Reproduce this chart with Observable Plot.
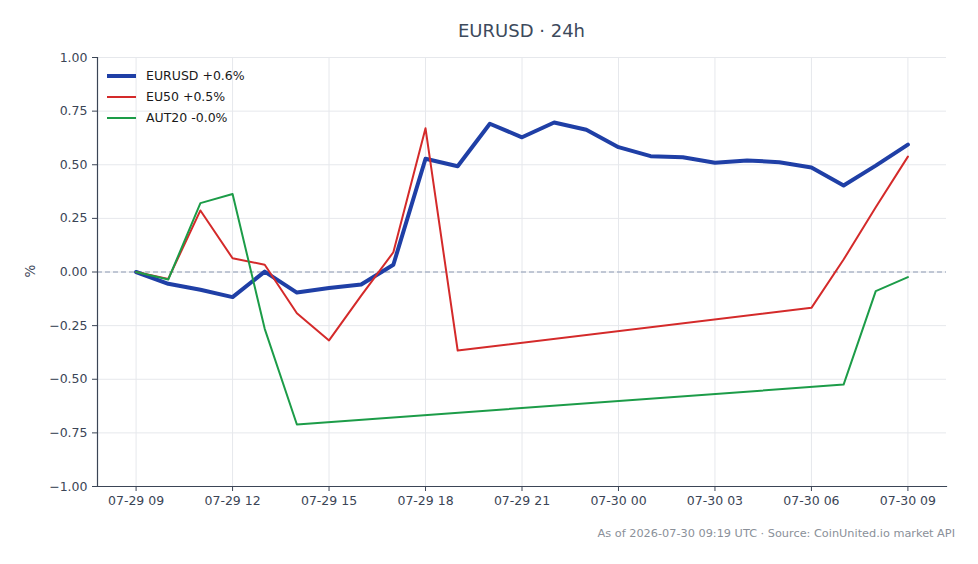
<!DOCTYPE html>
<html>
<head>
<meta charset="utf-8">
<script src="https://cdn.jsdelivr.net/npm/d3@7"></script>
<script src="https://cdn.jsdelivr.net/npm/@observablehq/plot@0.6"></script>
<style>
  body { margin: 0; background: #ffffff; font-family: "DejaVu Sans", sans-serif; }
  #wrap { position: relative; width: 978px; height: 564px; overflow: hidden; }
  #title { position: absolute; left: 97px; width: 849px; top: 19px; text-align: center;
           font-size: 18px; color: #3d4a5c; line-height: 24px; }
  #footer { position: absolute; right: 23px; top: 526px; font-size: 11.3px; color: #8a9099;
            white-space: nowrap; line-height: 16px; }
  #ylabel { position: absolute; left: 30px; top: 271px; transform: translate(-50%, -50%) rotate(-90deg);
            font-size: 13.5px; color: #3b4556; }
  #legend { position: absolute; left: 100px; top: 62px; }
  #chart svg { display: block; }
</style>
</head>
<body>
<div id="wrap">
  <div id="chart"></div>
  <div id="title"></div>
  <div id="ylabel">%</div>
  <svg id="legend" width="200" height="70"></svg>
  <div id="footer"></div>
</div>
<script>
// ---- data ----
const hours = [
  "2026-07-29T09:00Z","2026-07-29T10:00Z","2026-07-29T11:00Z","2026-07-29T12:00Z","2026-07-29T13:00Z",
  "2026-07-29T14:00Z","2026-07-29T15:00Z","2026-07-29T16:00Z","2026-07-29T17:00Z","2026-07-29T18:00Z",
  "2026-07-29T19:00Z","2026-07-29T20:00Z","2026-07-29T21:00Z","2026-07-29T22:00Z","2026-07-29T23:00Z",
  "2026-07-30T00:00Z","2026-07-30T01:00Z","2026-07-30T02:00Z","2026-07-30T03:00Z","2026-07-30T04:00Z",
  "2026-07-30T05:00Z","2026-07-30T06:00Z","2026-07-30T07:00Z","2026-07-30T08:00Z","2026-07-30T09:00Z"
];
const eurusd = [0.00,-0.055,-0.083,-0.117,0.002,-0.096,-0.075,-0.058,0.034,0.528,0.493,0.691,0.628,0.697,0.663,0.582,0.540,0.535,0.509,0.520,0.512,0.487,0.403,0.496,0.594];
const eu50   = [0.00,-0.032,0.287,0.064,0.034,-0.192,-0.319,-0.110,0.092,0.670,-0.366,null,null,null,null,null,null,null,null,null,null,-0.167,0.058,0.302,0.538];
const aut20  = [0.00,-0.035,0.321,0.364,-0.265,-0.711,null,null,null,null,null,null,null,null,null,null,null,null,null,null,null,null,-0.525,-0.089,-0.024];
const seriesNames = ["EURUSD","EU50","AUT20"];
const legendLabels = ["EURUSD +0.6%","EU50 +0.5%","AUT20 -0.0%"];
const xTickHours = ["2026-07-29T09:00Z","2026-07-29T12:00Z","2026-07-29T15:00Z","2026-07-29T18:00Z","2026-07-29T21:00Z","2026-07-30T00:00Z","2026-07-30T03:00Z","2026-07-30T06:00Z","2026-07-30T09:00Z"];
const yTicks = [-1.00,-0.75,-0.50,-0.25,0.00,0.25,0.50,0.75,1.00];
const titleText = "EURUSD · 24h";
const footerText = "As of 2026-07-30 09:19 UTC · Source: CoinUnited.io market API";

// ---- styles ----
const colors = ["#1f3fa6", "#d42a2a", "#1c9c48"];
const widths = [4, 2, 2];

const times = hours.map(h => new Date(h));
const allValues = [eurusd, eu50, aut20];
const rows = allValues.map((vals, i) =>
  vals.map((v, j) => ({ t: times[j], v, s: seriesNames[i] })).filter(d => d.v != null)
);
const t0 = times[0], t1 = times[times.length - 1];
const pad = (t1 - t0) * 0.05;
const xTicks = xTickHours.map(h => new Date(h));

const chart = Plot.plot({
  width: 978,
  height: 564,
  marginTop: 57,
  marginBottom: 78,
  marginLeft: 97,
  marginRight: 32,
  style: { fontFamily: "DejaVu Sans, sans-serif", fontSize: "12.5px", color: "#3b4556", background: "#ffffff" },
  x: { type: "utc", domain: [new Date(+t0 - pad), new Date(+t1 + pad)] },
  y: { domain: [-1, 1] },
  marks: [
    Plot.gridX(xTicks, { stroke: "#e6e8ec", strokeOpacity: 1 }),
    Plot.gridY(yTicks, { stroke: "#e6e8ec", strokeOpacity: 1 }),
    Plot.ruleY([0], { stroke: "#8c9ab3", strokeWidth: 1, strokeDasharray: "5,3" }),
    ...rows.map((r, i) => Plot.line(r, { x: "t", y: "v", stroke: colors[i], strokeWidth: widths[i], strokeLinejoin: "round", strokeLinecap: "round" })),
    Plot.axisX({ ticks: xTicks, tickFormat: d3.utcFormat("%m-%d %H"), tickSize: 5, tickPadding: 5, stroke: "#3b4556", label: null, fontSize: 12.5 }),
    Plot.axisY({ ticks: yTicks, tickFormat: d3.format(".2f"), tickSize: 5, tickPadding: 5, stroke: "#3b4556", label: null, fontSize: 12.5 }),
    Plot.frame({ anchor: "left", stroke: "#3b4556", strokeWidth: 1.2 }),
    Plot.frame({ anchor: "bottom", stroke: "#3b4556", strokeWidth: 1.2 })
  ]
});
document.getElementById("chart").appendChild(chart);
document.getElementById("title").textContent = titleText;
document.getElementById("footer").textContent = footerText;

// legend
const lg = d3.select("#legend");
legendLabels.forEach((lab, i) => {
  const y = 14 + i * 21;
  lg.append("line").attr("x1", 7).attr("x2", 36).attr("y1", y).attr("y2", y)
    .attr("stroke", colors[i]).attr("stroke-width", widths[i] === 4 ? 4 : 2);
  lg.append("text").attr("x", 46).attr("y", y).attr("dy", "0.35em")
    .attr("font-family", "DejaVu Sans, sans-serif").attr("font-size", 12.5).attr("fill", "#1a1a1a")
    .text(lab);
});
</script>
</body>
</html>
